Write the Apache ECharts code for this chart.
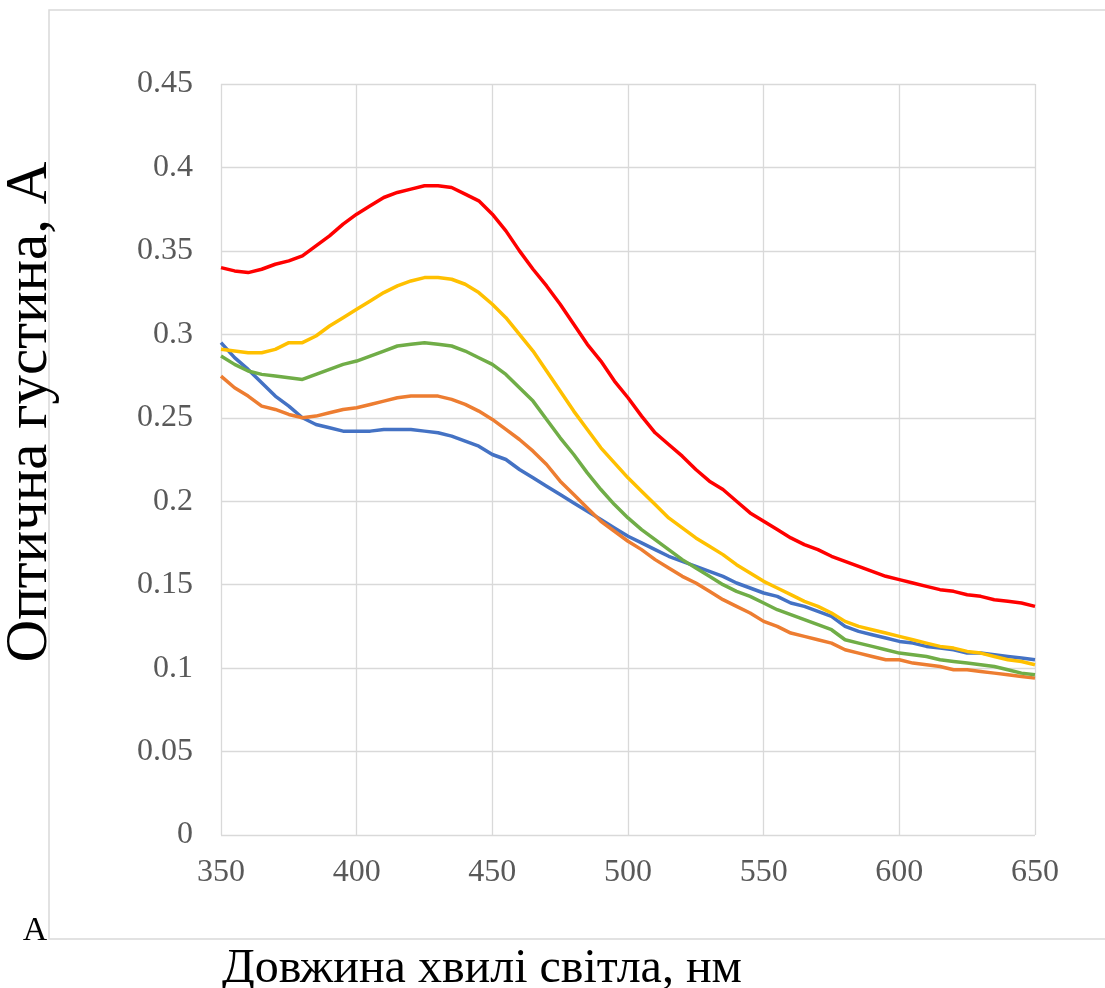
<!DOCTYPE html>
<html>
<head>
<meta charset="utf-8">
<script src="https://cdn.jsdelivr.net/npm/echarts@6/dist/echarts.min.js"></script>
<style>
  html, body { margin: 0; padding: 0; background: #fff; }
  #chart { width: 1105px; height: 988px; }
</style>
</head>
<body>
<div id="chart"></div>
<script>
// wavelength, nm (step 5)
const wavelengths = [];
for (let w = 350; w <= 650; w += 5) wavelengths.push(w);

const blueA = [0.295, 0.286, 0.279, 0.271, 0.263, 0.257, 0.250, 0.246, 0.244, 0.242,
  0.242, 0.242, 0.243, 0.243, 0.243, 0.242, 0.241, 0.239, 0.236, 0.233,
  0.228, 0.225, 0.219, 0.214, 0.209, 0.204, 0.199, 0.194, 0.189, 0.184,
  0.179, 0.175, 0.171, 0.167, 0.164, 0.161, 0.158, 0.155, 0.151, 0.148,
  0.145, 0.143, 0.139, 0.137, 0.134, 0.131, 0.125, 0.122, 0.120, 0.118,
  0.116, 0.115, 0.113, 0.112, 0.111, 0.109, 0.109, 0.108, 0.107, 0.106, 0.105];

const orangeA = [0.275, 0.268, 0.263, 0.257, 0.255, 0.252, 0.250, 0.251, 0.253, 0.255,
  0.256, 0.258, 0.260, 0.262, 0.263, 0.263, 0.263, 0.261, 0.258, 0.254,
  0.249, 0.243, 0.237, 0.230, 0.222, 0.212, 0.204, 0.196, 0.188, 0.182,
  0.176, 0.171, 0.165, 0.160, 0.155, 0.151, 0.146, 0.141, 0.137, 0.133,
  0.128, 0.125, 0.121, 0.119, 0.117, 0.115, 0.111, 0.109, 0.107, 0.105,
  0.105, 0.103, 0.102, 0.101, 0.099, 0.099, 0.098, 0.097, 0.096, 0.095, 0.094];

const greenA = [0.287, 0.282, 0.278, 0.276, 0.275, 0.274, 0.273, 0.276, 0.279, 0.282,
  0.284, 0.287, 0.290, 0.293, 0.294, 0.295, 0.294, 0.293, 0.290, 0.286,
  0.282, 0.276, 0.268, 0.260, 0.249, 0.238, 0.228, 0.217, 0.207, 0.198,
  0.190, 0.183, 0.177, 0.171, 0.165, 0.160, 0.155, 0.150, 0.146, 0.143,
  0.139, 0.135, 0.132, 0.129, 0.126, 0.123, 0.117, 0.115, 0.113, 0.111,
  0.109, 0.108, 0.107, 0.105, 0.104, 0.103, 0.102, 0.101, 0.099, 0.097, 0.096];

const yellowA = [0.291, 0.290, 0.289, 0.289, 0.291, 0.295, 0.295, 0.299, 0.305, 0.310,
  0.315, 0.320, 0.325, 0.329, 0.332, 0.334, 0.334, 0.333, 0.330, 0.325,
  0.318, 0.310, 0.300, 0.290, 0.278, 0.266, 0.254, 0.243, 0.232, 0.223,
  0.214, 0.206, 0.198, 0.190, 0.184, 0.178, 0.173, 0.168, 0.162, 0.157,
  0.152, 0.148, 0.144, 0.140, 0.137, 0.133, 0.128, 0.125, 0.123, 0.121,
  0.119, 0.117, 0.115, 0.113, 0.112, 0.110, 0.109, 0.107, 0.105, 0.104, 0.102];

const redA = [0.340, 0.338, 0.337, 0.339, 0.342, 0.344, 0.347, 0.353, 0.359, 0.366,
  0.372, 0.377, 0.382, 0.385, 0.387, 0.389, 0.389, 0.388, 0.384, 0.380,
  0.372, 0.362, 0.350, 0.339, 0.329, 0.318, 0.306, 0.294, 0.284, 0.272,
  0.262, 0.251, 0.241, 0.234, 0.227, 0.219, 0.212, 0.207, 0.200, 0.193,
  0.188, 0.183, 0.178, 0.174, 0.171, 0.167, 0.164, 0.161, 0.158, 0.155,
  0.153, 0.151, 0.149, 0.147, 0.146, 0.144, 0.143, 0.141, 0.140, 0.139, 0.137];

const seriesList = [
  { data: blueA, color: "#4472C4" },
  { data: orangeA, color: "#ED7D31" },
  { data: greenA, color: "#70AD47" },
  { data: yellowA, color: "#FFC000" },
  { data: redA, color: "#FF0000" }
];

const SERIF = "'Liberation Serif', 'Times New Roman', serif";
const gridLine = { show: true, lineStyle: { color: "#d9d9d9", width: 1.3 } };

const option = {
  animation: false,
  backgroundColor: "#fff",
  grid: { left: 221, top: 84, right: 70, bottom: 153, containLabel: false },
  xAxis: {
    type: "value",
    min: 350,
    max: 650,
    interval: 50,
    axisLine: { show: false },
    axisTick: { show: false },
    splitLine: gridLine,
    axisLabel: { color: "#595959", fontFamily: SERIF, fontSize: 32, margin: 22 }
  },
  yAxis: {
    type: "value",
    min: 0,
    max: 0.45,
    interval: 0.05,
    axisLine: { show: false },
    axisTick: { show: false },
    splitLine: gridLine,
    axisLabel: { color: "#595959", fontFamily: SERIF, fontSize: 32, margin: 28 }
  },
  graphic: [
    {
      type: "rect",
      shape: { x: 49, y: 10, width: 1080, height: 929 },
      style: { fill: null, stroke: "#d9d9d9", lineWidth: 1.5 },
      silent: true,
      z: -1
    },
    {
      type: "text",
      x: 30, y: 412, rotation: Math.PI / 2,
      style: { text: "Оптична густина, А", font: "59px " + SERIF, fill: "#000", align: "center", verticalAlign: "middle" }
    },
    {
      type: "text",
      x: 482, y: 969,
      style: { text: "Довжина хвилі світла, нм", font: "48px " + SERIF, fill: "#000", align: "center", verticalAlign: "middle" }
    },
    {
      type: "text",
      x: 35, y: 931,
      style: { text: "A", font: "34px " + SERIF, fill: "#000", align: "center", verticalAlign: "middle" }
    }
  ],
  series: seriesList.map(s => ({
    type: "line",
    showSymbol: false,
    data: wavelengths.map((w, i) => [w, s.data[i]]),
    lineStyle: { color: s.color, width: 3.5 },
    itemStyle: { color: s.color }
  }))
};

const chart = echarts.init(document.getElementById("chart"));
chart.setOption(option);
window.addEventListener("resize", function () {
  chart.resize();
});
</script>
</body>
</html>
